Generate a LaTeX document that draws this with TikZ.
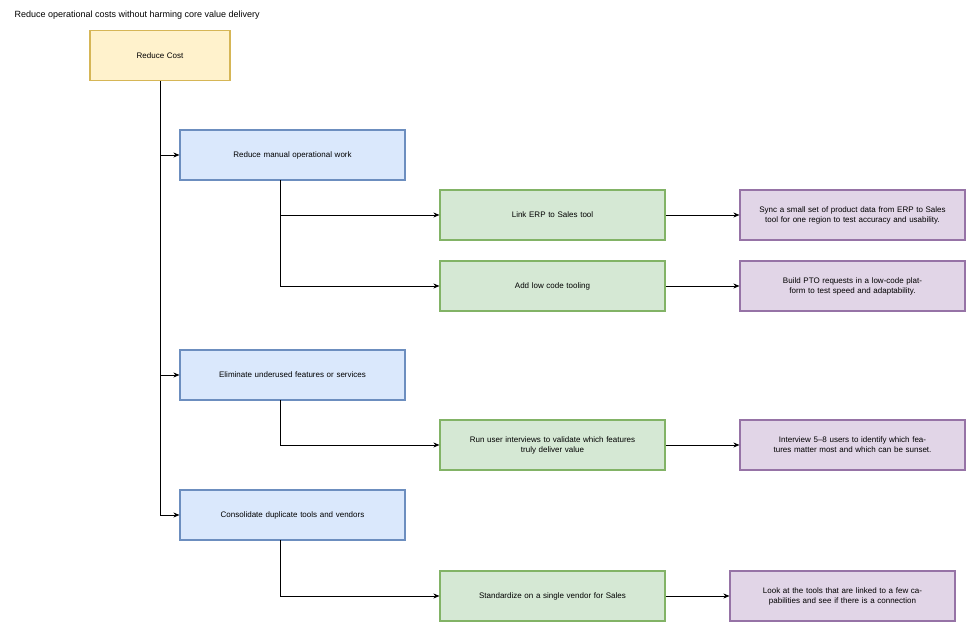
\documentclass[tikz,border=0pt]{standalone}
\usepackage{fontspec}
\setmainfont{Liberation Sans}
\usetikzlibrary{positioning, arrows.meta}
\definecolor{yfill}{HTML}{FFF2CC}\definecolor{ydraw}{HTML}{D6B656}
\definecolor{bfill}{HTML}{DAE8FC}\definecolor{bdraw}{HTML}{6C8EBF}
\definecolor{gfill}{HTML}{D5E8D4}\definecolor{gdraw}{HTML}{82B366}
\definecolor{pfill}{HTML}{E1D5E7}\definecolor{pdraw}{HTML}{9673A6}
\begin{document}
\begin{tikzpicture}[x=1pt, y=-1pt, font=\fontsize{8}{10}\selectfont,
  box/.style={draw, line width=1.2pt, minimum width=225pt, minimum height=50pt, align=center, text width=215pt},
  goal/.style={box, fill=yfill, draw=ydraw, minimum width=140pt, text width=130pt},
  area/.style={box, fill=bfill, draw=bdraw},
  idea/.style={box, fill=gfill, draw=gdraw},
  test/.style={box, fill=pfill, draw=pdraw},
  link/.style={-{Stealth[length=6pt, width=5pt]}, line width=0.6pt}]
	\useasboundingbox (0,0) rectangle (966,621);
	\node[anchor=west, font=\fontsize{9}{11}\selectfont] (title) at (11,15) {Reduce operational costs without harming core value delivery};
	\node[goal] (cost) at (160,55.5) {Reduce Cost};

	\node[area] (manual) at (292.5,155) {Reduce manual operational work};
	\node[area] (unused) at (292.5,375) {Eliminate underused features or services};
	\node[area] (dupl) at (292.5,515) {Consolidate duplicate tools and vendors};

	\node[idea] (erp) at (552.5,215) {Link ERP to Sales tool};
	\node[idea] (lowcode) at (552.5,286) {Add low code tooling};
	\node[idea] (interv) at (552.5,445) {Run user interviews to validate which features\\truly deliver value};
	\node[idea] (vendor) at (552.5,596) {Standardize on a single vendor for Sales};

	\node[test] (sync) at (852.5,215) {Sync a small set of product data from ERP to Sales tool for one region to test accuracy and usability.};
	\node[test] (pto) at (852.5,286) {Build PTO requests in a low-code platform to test speed and adaptability.};
	\node[test] (users) at (852.5,445) {Interview 5--8 users to identify which features matter most and which can be sunset.};
	\node[test] (tools) at (842.5,596) {Look at the tools that are linked to a few capabilities and see if there is a connection};

	\coordinate (m1) at (280,180);
	\coordinate (u1) at (280,400);
	\coordinate (d1) at (280,540);

	\draw[link] (cost.south) |- (manual.west);
	\draw[link] (cost.south) |- (unused.west);
	\draw[link] (cost.south) |- (dupl.west);
	\draw[link] (m1) |- (erp.west);
	\draw[link] (m1) |- (lowcode.west);
	\draw[link] (u1) |- (interv.west);
	\draw[link] (d1) |- (vendor.west);
	\draw[link] (erp) -- (sync);
	\draw[link] (lowcode) -- (pto);
	\draw[link] (interv) -- (users);
	\draw[link] (vendor) -- (tools);
\end{tikzpicture}
\end{document}
